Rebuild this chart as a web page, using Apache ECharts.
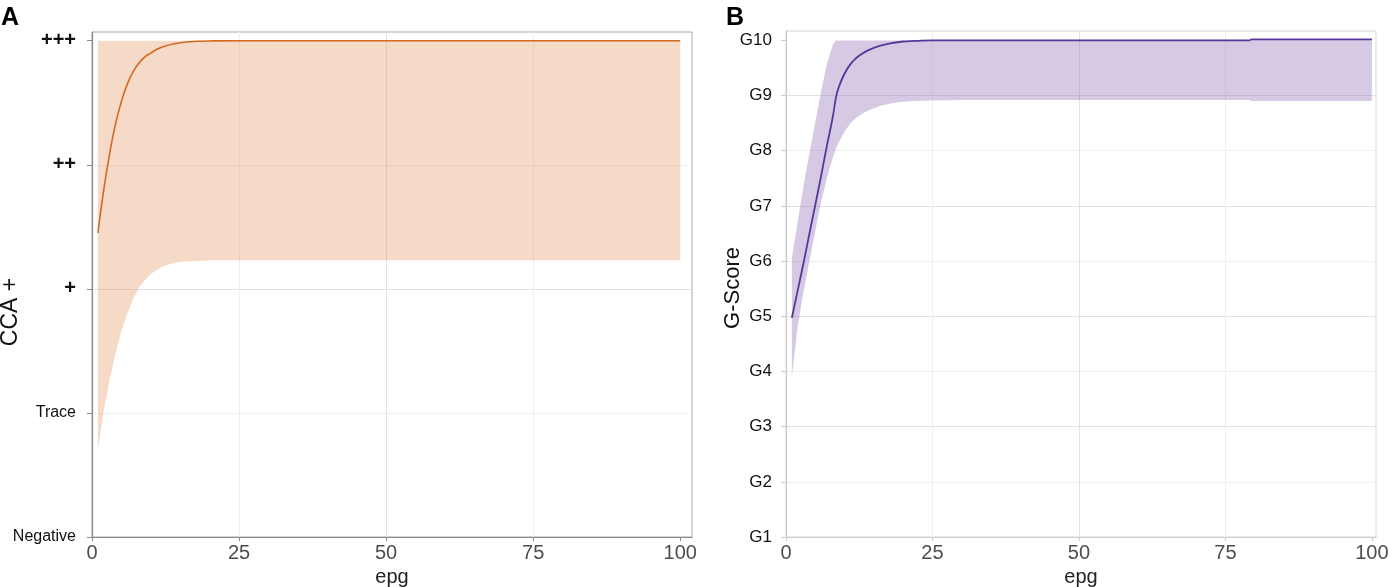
<!DOCTYPE html>
<html>
<head>
    <title>ECharts</title>
    <meta charset="utf-8">
    <style>
        html, body { margin: 0; padding: 0; background: #fff; }
        #main { width: 1390px; height: 587px; }
    </style>
</head>
<body>
    <div id="main"></div>
    <script type="text/javascript" src="https://cdn.jsdelivr.net/npm/echarts@6/dist/echarts.min.js"></script>
    <script type="text/javascript">
    // panel A : CCA
    var xA    = [1, 2, 3, 4, 5, 6, 7, 8, 9, 10, 11, 12, 14, 16, 18, 20, 25, 30, 40, 50, 60, 70, 80, 90, 100];
    var lineA = [2.45, 2.8, 3.09, 3.33, 3.51, 3.65, 3.75, 3.82, 3.87, 3.9, 3.93, 3.95, 3.975, 3.99, 3.995, 3.998, 4, 4, 4, 4, 4, 4, 4, 4, 4];
    var lowA  = [0.71, 1.02, 1.27, 1.48, 1.66, 1.8, 1.92, 2.01, 2.07, 2.12, 2.15, 2.18, 2.21, 2.22, 2.225, 2.23, 2.23, 2.23, 2.23, 2.23, 2.23, 2.23, 2.23, 2.23, 2.23];
    var highA = [4, 4, 4, 4, 4, 4, 4, 4, 4, 4, 4, 4, 4, 4, 4, 4, 4, 4, 4, 4, 4, 4, 4, 4, 4];
    var labelsA = ['Negative', 'Trace', '+', '++', '+++'];

    // panel B : G-Score
    var xB    = [1, 2, 3, 4, 5, 6, 7, 8, 8.5, 9, 10, 11, 12, 13, 14, 16, 18, 20, 22, 25, 30, 40, 50, 60, 70, 79, 79.5, 90, 100];
    var lineB = [4.97, 5.47, 5.97, 6.5, 7.02, 7.55, 8.1, 8.62, 8.95, 9.15, 9.4, 9.57, 9.68, 9.76, 9.82, 9.9, 9.95, 9.98, 9.99, 10, 10, 10, 10, 10, 10, 10, 10.02, 10.02, 10.02];
    var lowB  = [3.91, 4.82, 5.45, 6.0, 6.55, 7.08, 7.52, 7.88, 8.03, 8.15, 8.35, 8.5, 8.6, 8.67, 8.73, 8.81, 8.86, 8.89, 8.9, 8.91, 8.92, 8.92, 8.92, 8.92, 8.92, 8.92, 8.9, 8.9, 8.9];
    var highB = [6.05, 6.72, 7.37, 7.95, 8.52, 9.08, 9.58, 9.92, 10, 10, 10, 10, 10, 10, 10, 10, 10, 10, 10, 10, 10, 10, 10, 10, 10, 10, 10.02, 10.02, 10.02];
    var labelsB = ['G1', 'G2', 'G3', 'G4', 'G5', 'G6', 'G7', 'G8', 'G9', 'G10'];

    var xTicks = [0, 25, 50, 75, 100];

    var FONT = 'Liberation Sans';

    function pairs(xs, ys) {
        return xs.map(function (x, i) { return [x, ys[i]]; });
    }
    function range(n, start) {
        var r = [];
        for (var i = 0; i < n; i++) r.push(start + i);
        return r;
    }

    // ribbon between lo and hi, drawn as one polygon through the axes
    function band(xs, lo, hi, grid, color) {
        return {
            type: 'custom', coordinateSystem: 'cartesian2d',
            xAxisIndex: grid, yAxisIndex: grid, silent: true, z: 1,
            data: [[xs[0], lo[0]]],
            renderItem: function (params, api) {
                var pts = [];
                for (var i = 0; i < xs.length; i++) pts.push(api.coord([xs[i], hi[i]]));
                for (var j = xs.length - 1; j >= 0; j--) pts.push(api.coord([xs[j], lo[j]]));
                return { type: 'polygon', shape: { points: pts }, style: { fill: color } };
            }
        };
    }

    function xAxisOf(grid, max, axisColor) {
        return {
            type: 'value', gridIndex: grid, min: 0, max: max, interval: 12.5,
            name: 'epg', nameLocation: 'middle', nameGap: 29,
            nameTextStyle: { fontFamily: FONT, fontSize: 20, color: '#222' },
            axisLine: { show: true, onZero: false, lineStyle: { color: axisColor, width: 1.2 } },
            axisTick: { show: true, length: 4, customValues: xTicks, lineStyle: { color: axisColor } },
            axisLabel: { customValues: xTicks, margin: 6, fontFamily: FONT, fontSize: 20, color: '#4d4d4d' },
            splitLine: { show: true, showMaxLine: false, lineStyle: { color: ['#e2e2e2', '#efefef'], width: 1 } }
        };
    }

    // rotated y-axis titles
    function yTitle(text, x, y, size) {
        return {
            type: 'text', x: x, y: y, rotation: Math.PI / 2,
            style: { text: text, fontFamily: FONT, fontSize: size, fill: '#111', align: 'center', verticalAlign: 'middle' }
        };
    }

    var myChart = echarts.init(document.getElementById('main'));

    var option = {
        animation: false,
        backgroundColor: '#fff',
        title: [
            { text: 'A', left: 1, top: 6, padding: 0, textStyle: { fontFamily: FONT, fontSize: 25, fontWeight: 'bold', color: '#000' } },
            { text: 'B', left: 726, top: 6, padding: 0, textStyle: { fontFamily: FONT, fontSize: 25, fontWeight: 'bold', color: '#000' } }
        ],
        graphic: [
            yTitle('CCA +', 11, 312, 23),
            yTitle('G-Score', 733, 288, 22)
        ],
        grid: [
            { left: 92, top: 32, width: 600, height: 505, outerBoundsMode: 'none', containLabel: false,
              show: true, borderColor: '#a8a8a8', borderWidth: 1 },
            { left: 786, top: 31, width: 590, height: 506, outerBoundsMode: 'none', containLabel: false,
              show: true, borderColor: '#d6d6d6', borderWidth: 1 }
        ],
        xAxis: [
            xAxisOf(0, 102, '#8a8a8a'),
            xAxisOf(1, 100.7, '#cccccc')
        ],
        yAxis: [
            {
                type: 'value', gridIndex: 0, min: 0, max: 4.07, interval: 0.5,
                axisLine: { show: true, lineStyle: { color: '#8a8a8a', width: 1.2 } },
                axisTick: { show: true, length: 5, customValues: [0, 1, 2, 3, 4], lineStyle: { color: '#8a8a8a' } },
                axisLabel: {
                    customValues: [0, 1, 2, 3, 4], margin: 16,
                    fontFamily: FONT, fontSize: 16, color: '#111',
                    formatter: function (v) {
                        var i = Math.round(v);
                        return i >= 2 ? '{b|' + labelsA[i] + '}' : labelsA[i];
                    },
                    rich: { b: { fontFamily: FONT, fontSize: 20, fontWeight: 'bold', color: '#111' } }
                },
                splitLine: { show: true, showMaxLine: false, lineStyle: { color: ['#e2e2e2', '#efefef'], width: 1 } }
            },
            {
                type: 'value', gridIndex: 1, min: 1, max: 10.17, interval: 0.5,
                axisLine: { show: true, lineStyle: { color: '#cccccc', width: 1.2 } },
                axisTick: { show: true, length: 5, customValues: range(10, 1), lineStyle: { color: '#cccccc' } },
                axisLabel: {
                    customValues: range(10, 1), margin: 14,
                    fontFamily: FONT, fontSize: 17, color: '#111',
                    formatter: function (v) { return labelsB[Math.round(v) - 1]; }
                },
                splitLine: { show: true, showMaxLine: false, lineStyle: { color: ['#e2e2e2', '#efefef'], width: 1 } }
            }
        ],
        series: [
            band(xA, lowA, highA, 0, 'rgba(222,140,80,0.32)'),
            {
                name: 'CCA', type: 'line', xAxisIndex: 0, yAxisIndex: 0, z: 2,
                data: pairs(xA, lineA), smooth: true, symbol: 'none',
                lineStyle: { color: '#d2691e', width: 1.6 }
            },
            band(xB, lowB, highB, 1, 'rgba(140,105,180,0.36)'),
            {
                name: 'G-Score', type: 'line', xAxisIndex: 1, yAxisIndex: 1, z: 2,
                data: pairs(xB, lineB), smooth: true, symbol: 'none',
                lineStyle: { color: '#55389a', width: 1.8 }
            }
        ]
    };

    myChart.setOption(option);

    window.onresize = function () {
        myChart.resize();
    };
    </script>
</body>
</html>
